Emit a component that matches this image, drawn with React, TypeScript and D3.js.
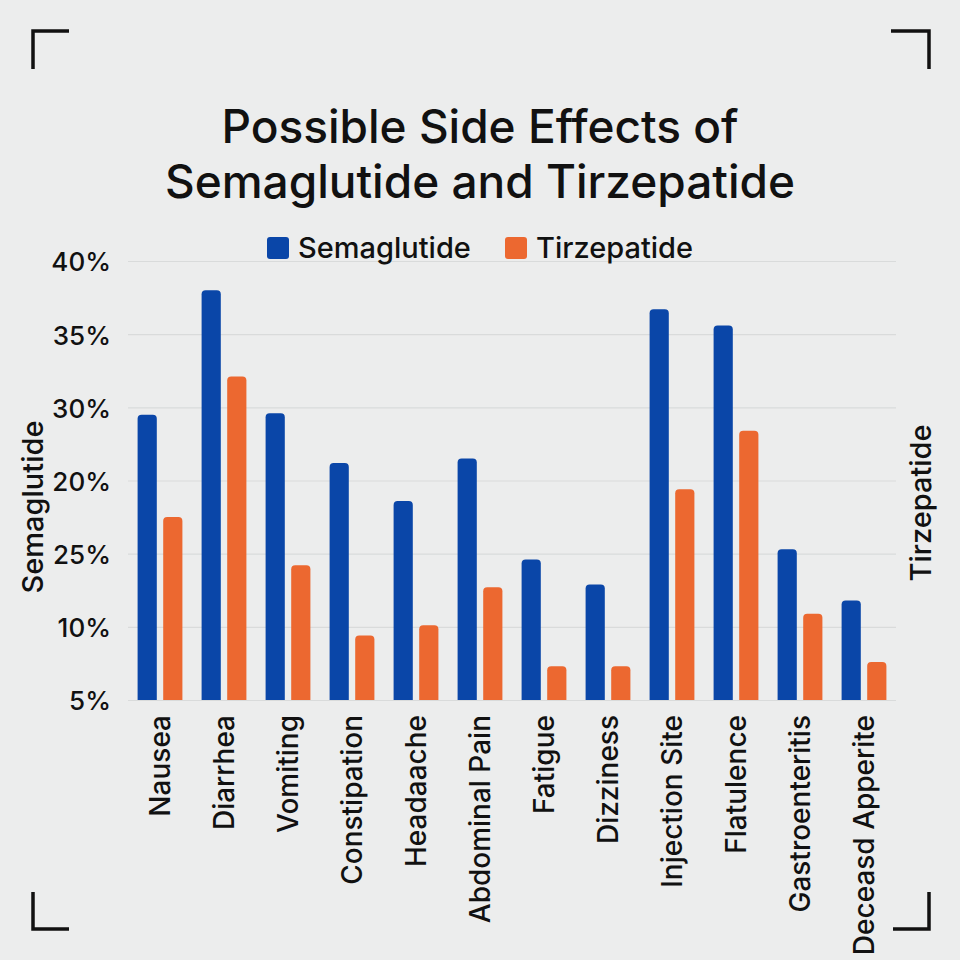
import * as d3 from 'd3';
import { useEffect, useRef } from 'react';

// categories and values
const categories = [
  'Nausea', 'Diarrhea', 'Vomiting', 'Constipation', 'Headaache', 'Abdominal Pain',
  'Fatigue', 'Dizziness', 'Injection Site', 'Flatulence', 'Gastroenteritis', 'Deceasd Apperite',
];
const semaglutide = [24.5, 33.0, 24.6, 21.2, 18.6, 21.5, 14.6, 12.9, 31.7, 30.6, 15.3, 11.8];
const tirzepatide = [17.5, 27.1, 14.2, 9.4, 10.1, 12.7, 7.3, 7.3, 19.4, 23.4, 10.9, 7.6];
const seriesNames = ['Semaglutide', 'Tirzepatide'];
const tickValues = [5, 10, 15, 20, 25, 30, 35];
const tickLabels = ['5%', '10%', '25%', '20%', '30%', '35%', '40%'];

const colors = ['#0A46A8', '#EC6830'];
const W = 960;
const H = 960;

export default function App() {
  const svgRef = useRef<SVGSVGElement | null>(null);

  useEffect(() => {
    if (!svgRef.current) return;
    const svg = d3.select(svgRef.current);
    svg.selectAll('*').remove();

    const font = 'Inter, "Noto Sans", sans-serif';
    const left = 128, right = 896, top = 261, bottom = 700;

    svg.append('rect').attr('width', W).attr('height', H).attr('fill', '#ECEDED');

    // corner brackets
    const corners = [
      'M33,69 V31 H69', 'M891,31 H929 V69',
      'M33,892 V929 H69', 'M893,929 H929 V892',
    ];
    svg.selectAll('path.corner').data(corners).join('path')
      .attr('class', 'corner')
      .attr('d', (d) => d)
      .attr('fill', 'none')
      .attr('stroke', '#111')
      .attr('stroke-width', 3.5);

    // title
    const title = svg.append('text')
      .attr('x', 480)
      .attr('text-anchor', 'middle')
      .attr('font-family', font)
      .attr('font-weight', 500)
      .attr('font-size', 46)
      .attr('fill', '#111');
    title.append('tspan').attr('x', 480).attr('y', 143).text('Possible Side Effects of');
    title.append('tspan').attr('x', 480).attr('y', 198).text('Semaglutide and Tirzepatide');

    const x = d3.scaleBand<string>().domain(categories).range([left, right])
      .paddingInner(0.3).paddingOuter(0.15);
    const xs = d3.scaleBand<string>().domain(seriesNames).range([0, x.bandwidth()])
      .paddingInner(0.25);
    const y = d3.scaleLinear().domain([5, 35]).range([bottom, top]);

    // grid
    const yAxis = d3.axisLeft(y).tickValues(tickValues)
      .tickSize(-(right - left))
      .tickFormat((d, i) => tickLabels[i]);
    svg.append('g')
      .attr('transform', `translate(${left},0)`)
      .call(yAxis)
      .call((g) => g.select('.domain').remove())
      .call((g) => g.selectAll('line').attr('stroke', '#D9DBDB').attr('stroke-width', 1.2))
      .call((g) => g.selectAll('text')
        .attr('x', -17)
        .attr('dy', '0.38em')
        .attr('fill', '#111')
        .attr('font-family', font)
        .attr('font-size', 26)
        .attr('font-weight', 500));

    // bars with rounded tops
    const r = 4;
    const barPath = (x0: number, w: number, yt: number) =>
      `M${x0},${bottom} V${yt + r} Q${x0},${yt} ${x0 + r},${yt} H${x0 + w - r} Q${x0 + w},${yt} ${x0 + w},${yt + r} V${bottom} Z`;

    [semaglutide, tirzepatide].forEach((vals, si) => {
      svg.append('g').selectAll('path').data(vals).join('path')
        .attr('d', (v, i) => barPath((x(categories[i]) ?? 0) + (xs(seriesNames[si]) ?? 0), xs.bandwidth(), y(v)))
        .attr('fill', colors[si]);
    });

    // x labels
    svg.append('g').selectAll('text').data(categories).join('text')
      .attr('transform', (d) => `translate(${(x(d) ?? 0) + x.bandwidth() / 2},715) rotate(-90)`)
      .attr('text-anchor', 'end')
      .attr('dy', '0.36em')
      .attr('font-family', font)
      .attr('font-size', 28)
      .attr('font-weight', 500)
      .attr('fill', '#111')
      .text((d) => d);

    // legend
    const legendX = [267, 505];
    const lg = svg.append('g').selectAll('g').data(seriesNames).join('g')
      .attr('transform', (d, i) => `translate(${legendX[i]},237)`);
    lg.append('rect').attr('width', 22).attr('height', 22).attr('rx', 3).attr('fill', (d, i) => colors[i]);
    lg.append('text')
      .attr('x', 31).attr('y', 21)
      .attr('font-family', font)
      .attr('font-size', 29)
      .attr('font-weight', 500)
      .attr('fill', '#111')
      .text((d) => d);

    // axis titles
    svg.append('text')
      .attr('transform', 'translate(33,507) rotate(-90)')
      .attr('text-anchor', 'middle').attr('dy', '0.36em')
      .attr('font-family', font).attr('font-size', 29).attr('font-weight', 500)
      .attr('fill', '#111')
      .text('Semaglutide');
    svg.append('text')
      .attr('transform', 'translate(921,503) rotate(-90)')
      .attr('text-anchor', 'middle').attr('dy', '0.36em')
      .attr('font-family', font).attr('font-size', 29).attr('font-weight', 500)
      .attr('fill', '#111')
      .text('Tirzepatide');
  }, []);

  return (
    <svg ref={svgRef} width={W} height={H}
      style={{ position: 'absolute', top: 0, left: 0, display: 'block' }} />
  );
}
